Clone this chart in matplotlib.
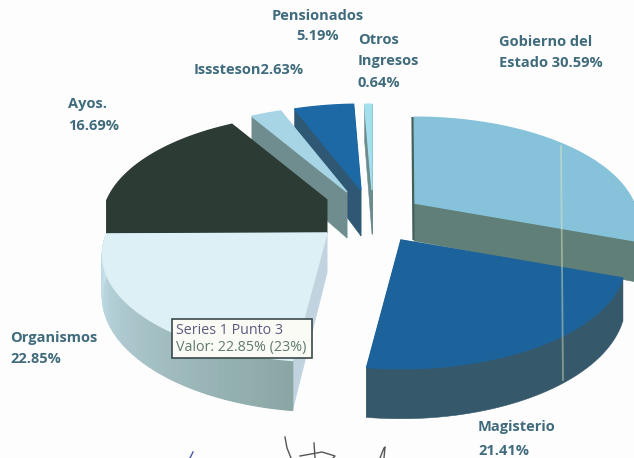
import numpy as np
import matplotlib
matplotlib.use('Agg')
import matplotlib.pyplot as plt
from matplotlib.patches import Polygon, Rectangle
from matplotlib.colors import to_rgb

# percentages, clockwise from 12 o'clock
shares = [30.59, 21.41, 22.85, 16.69, 2.63, 5.19, 0.64]
names = ['Gobierno', 'Magisterio', 'Organismos', 'Ayos', 'Isssteson', 'Pensionados', 'Otros']

# exploded slice apex in image pixels, and thickness
apex = {'Gobierno': (414, 203), 'Magisterio': (401, 240), 'Organismos': (327, 233),
        'Ayos': (327, 200), 'Isssteson': (347, 192), 'Pensionados': (361, 190),
        'Otros': (372, 190)}
depth = {'Gobierno': 38, 'Magisterio': 40, 'Organismos': 40, 'Ayos': 33,
         'Isssteson': 46, 'Pensionados': 46, 'Otros': 44}
face = {'Gobierno': '#86c3da', 'Magisterio': '#1d639b', 'Organismos': '#ddf0f6',
        'Ayos': '#2c3b34', 'Isssteson': '#a8d5e6', 'Pensionados': '#1c69a6', 'Otros': '#a3e0ee'}
wall = {'Gobierno': '#5f7f78', 'Magisterio': '#35586b', 'Organismos': '#c0d3df',
        'Ayos': '#2c3b34', 'Isssteson': '#6f8d8e', 'Pensionados': '#2f5874', 'Otros': '#6c8b8c'}

label_color = '#3f6b7c'
RX, RY, K = 220, 103, 0.2


def project(theta, name, drop=0.0):
    # perspective ellipse: the front of the pie is drawn larger than the back
    u, v = np.cos(theta), np.sin(theta)
    s = 1 / (1 + K * v)
    cx, cy = apex[name]
    return cx + RX * u * s, cy - RY * v * s + drop * s


def arc(start, end, name, drop=0.0):
    t = np.linspace(start, end, 60)
    x, y = project(t, name, drop)
    return np.column_stack([x, y])


def label(x, y, s):
    ax.text(x, y, s, color=label_color, fontsize=10.5, family='Open Sans', weight='bold', va='center')


fig = plt.figure(figsize=(6.34, 4.58), dpi=100, facecolor='#fdfdfd')
ax = fig.add_axes([0, 0, 1, 1])
ax.set_xlim(0, 634)
ax.set_ylim(458, 0)
ax.axis('off')

edges = np.pi / 2 - np.radians(np.cumsum([0] + shares) / sum(shares) * 360)
angles = {n: (edges[i], edges[i + 1]) for i, n in enumerate(names)}

for name in ['Otros', 'Pensionados', 'Isssteson', 'Ayos', 'Organismos', 'Gobierno', 'Magisterio']:
    a0, a1 = angles[name]
    d = depth[name]
    c = np.array(apex[name], dtype=float)
    # side walls on the cut edges
    for t in (a0, a1):
        p = np.array(project(t, name))
        q = np.array(project(t, name, d))
        ax.add_patch(Polygon([c, p, q, c + [0, d]], fc=wall[name], ec=wall[name], lw=0.4))
    # outer rim, front part only
    rim = np.linspace(a0, a1, 121)
    rim = rim[np.sin(rim) < 0.02]
    if name == 'Organismos':
        for i in range(len(rim) - 1):
            f = (rim[i] - a0) / (a1 - a0)
            col = np.array(to_rgb('#8aa6a4')) * (1 - f) + np.array(to_rgb('#c6e2ee')) * f
            top = arc(rim[i], rim[i + 1], name)
            bot = arc(rim[i + 1], rim[i], name, d)
            ax.add_patch(Polygon(np.vstack([top, bot]), fc=col, ec=col, lw=1.0))
    elif len(rim) > 1:
        top = arc(rim[0], rim[-1], name)
        bot = arc(rim[-1], rim[0], name, d)
        ax.add_patch(Polygon(np.vstack([top, bot]), fc=wall[name], ec=wall[name], lw=0.4))
    ax.add_patch(Polygon(np.vstack([c, arc(a0, a1, name)]), fc=face[name], ec=face[name], lw=1.0))

# dark left edge of the Gobierno slice
ax.plot([412.5, 413.5], [117, 240], color='#44605c', lw=1.6, solid_capstyle='butt')

# scan streak through the right-hand slices
ax.plot([561, 563], [146, 380], color='#e6e8c0', lw=1.3, alpha=0.45)

# labels
label(272, 16, 'Pensionados')
label(296, 36, '5.19%')
label(358, 40, 'Otros')
label(358, 61, 'Ingresos')
label(358, 83, '0.64%')
label(499, 42, 'Gobierno del')
label(499, 63, 'Estado 30.59%')
label(194, 70, 'Isssteson2.63%')
label(68, 104, 'Ayos.')
label(68, 126, '16.69%')
label(10, 338, 'Organismos')
label(10, 359, '22.85%')
label(478, 427, 'Magisterio')
label(478, 451, '21.41%')

# tooltip
ax.add_patch(Rectangle((172, 319), 140, 39, fc='#fbfbf6', ec='#3a4a4a', lw=1.2, zorder=5))
ax.text(176, 331, 'Series 1 Punto 3', color='#5b5a80', fontsize=10.3, family='Open Sans', va='center', zorder=6)
ax.text(176, 348, 'Valor: 22.85% (23%)', color='#5f7a70', fontsize=10.3, family='Open Sans', va='center', zorder=6)

# signature at the bottom edge
ax.plot([190, 193], [458, 452], color='#4a55a0', lw=1)
ax.plot([285, 287, 291], [437, 448, 458], color='#555555', lw=1)
ax.plot([314, 315], [443, 458], color='#555555', lw=1)
ax.plot([300, 322, 335, 333], [456, 452, 456, 458], color='#555555', lw=1)
ax.plot([380, 384, 385, 384], [458, 448, 447, 458], color='#555555', lw=1)

fig.savefig('out.png', dpi=100, facecolor=fig.get_facecolor())
